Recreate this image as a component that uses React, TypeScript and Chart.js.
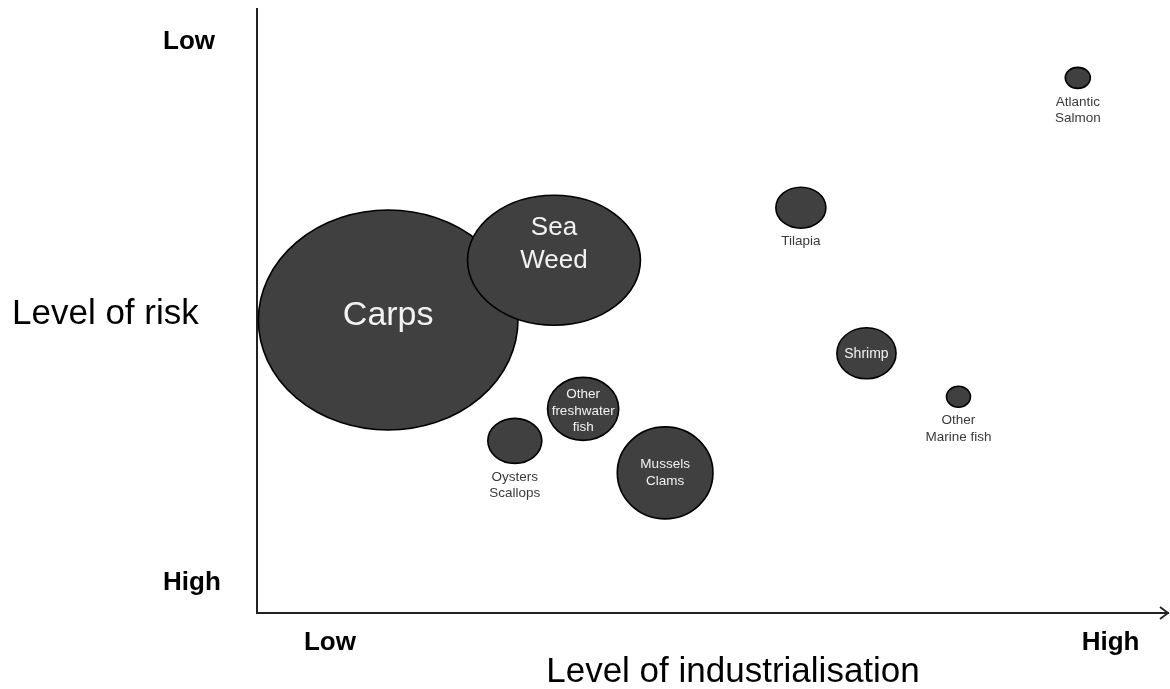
import React, { useEffect, useRef } from "react";
import { Chart, registerables } from "chart.js";

Chart.register(...registerables);

// ---- data ----
const species = [
  "Carps",
  "Sea Weed",
  "Other freshwater fish",
  "Oysters Scallops",
  "Mussels Clams",
  "Tilapia",
  "Shrimp",
  "Other Marine fish",
  "Atlantic Salmon",
];
// level of industrialisation (0 = low, 100 = high)
const industrialisation = [14.4, 32.6, 35.8, 28.3, 44.8, 59.7, 66.9, 77.0, 90.1];
// level of risk position (100 = low risk at top, 0 = high risk at bottom)
const riskPosition = [48.5, 58.4, 33.8, 28.5, 23.2, 67.1, 43.0, 35.8, 88.6];
// bubble size (radius) and ellipse aspect
const bubbleSize = [110, 65, 31.5, 22.5, 46, 20.5, 25.5, 10.5, 10.5];
const bubbleAspect = [1.18, 1.33, 1.13, 1.2, 1.04, 1.22, 1.16, 1.14, 1.19];
// label lines and placement
const labelLines = [
  ["Carps"],
  ["Sea", "Weed"],
  ["Other", "freshwater", "fish"],
  ["Oysters", "Scallops"],
  ["Mussels", "Clams"],
  ["Tilapia"],
  ["Shrimp"],
  ["Other", "Marine fish"],
  ["Atlantic", "Salmon"],
];
const labelInside = [true, true, true, false, true, false, true, false, false];

const xTickValues = [8, 93.7];
const xTickLabels = ["Low", "High"];
const yTickValues = [94.6, 5.0];
const yTickLabels = ["Low", "High"];
const xAxisTitle = "Level of industrialisation";
const yAxisTitle = "Level of risk";

const FONT = '"Liberation Sans", Arial, Helvetica, sans-serif';

// inside-label styles
const insideFont = [34, 26, 13.5, 13, 13.5, 13.5, 14, 13.5, 13.5];
const insideLineH = [34, 33, 16.5, 16, 17, 16, 16, 16, 16];
const insideDy = [-4, -16, 2, 0, 0, 0, 1, 0, 0];

const bubblePlugin = {
  id: "ellipseBubbles",
  afterDatasetsDraw(chart: any) {
    const ctx = chart.ctx as CanvasRenderingContext2D;
    const meta = chart.getDatasetMeta(0);
    ctx.save();
    meta.data.forEach((el: any, i: number) => {
      const ry = bubbleSize[i];
      const rx = ry * bubbleAspect[i];
      ctx.beginPath();
      ctx.ellipse(el.x, el.y, rx, ry, 0, 0, Math.PI * 2);
      ctx.fillStyle = "#404040";
      ctx.fill();
      ctx.lineWidth = 1.6;
      ctx.strokeStyle = "#000000";
      ctx.stroke();
    });
    meta.data.forEach((el: any, i: number) => {
      const ry = bubbleSize[i];
      const lines = labelLines[i];
      ctx.textAlign = "center";
      ctx.textBaseline = "middle";
      if (labelInside[i]) {
        const fs = insideFont[i];
        const lh = insideLineH[i];
        ctx.font = `${fs}px ${FONT}`;
        ctx.fillStyle = "#f2f2f2";
        const start = el.y + insideDy[i] - ((lines.length - 1) * lh) / 2;
        lines.forEach((t, k) => ctx.fillText(t, el.x, start + k * lh));
      } else {
        ctx.font = `13.5px ${FONT}`;
        ctx.fillStyle = "#3a3a3a";
        const start = el.y + ry + 13.5;
        lines.forEach((t, k) => ctx.fillText(t, el.x, start + k * 16.5));
      }
    });
    ctx.restore();
  },
  afterDraw(chart: any) {
    const ctx = chart.ctx as CanvasRenderingContext2D;
    const area = chart.chartArea;
    const xs = chart.scales.x;
    const ys = chart.scales.y;
    ctx.save();
    // arrow head at the end of x axis
    ctx.strokeStyle = "#222222";
    ctx.lineWidth = 1.8;
    ctx.beginPath();
    ctx.moveTo(area.right - 8, area.bottom - 6);
    ctx.lineTo(area.right, area.bottom);
    ctx.lineTo(area.right - 8, area.bottom + 6);
    ctx.stroke();

    ctx.fillStyle = "#000000";
    // y ticks (Low / High)
    ctx.font = `bold 26px ${FONT}`;
    ctx.textAlign = "left";
    ctx.textBaseline = "middle";
    yTickValues.forEach((v, i) => {
      ctx.fillText(yTickLabels[i], 163, ys.getPixelForValue(v));
    });
    // x ticks
    ctx.textAlign = "center";
    xTickValues.forEach((v, i) => {
      ctx.fillText(xTickLabels[i], xs.getPixelForValue(v), area.bottom + 30);
    });
    // titles
    ctx.font = `35px ${FONT}`;
    ctx.textAlign = "left";
    ctx.fillText(yAxisTitle, 12, (area.top + area.bottom) / 2 + 3);
    ctx.textAlign = "center";
    ctx.fillText(xAxisTitle, 733, area.bottom + 59);
    ctx.restore();
  },
};

export default function App() {
  const ref = useRef<HTMLCanvasElement | null>(null);
  useEffect(() => {
    if (!ref.current) return;
    const chart = new Chart(ref.current, {
      type: "bubble",
      data: {
        datasets: [
          {
            label: "Species",
            data: species.map((_, i) => ({
              x: industrialisation[i],
              y: riskPosition[i],
              r: bubbleSize[i],
            })),
            backgroundColor: "rgba(0,0,0,0)",
            borderWidth: 0,
            hoverRadius: 0,
            clip: false,
          },
        ],
      },
      plugins: [bubblePlugin],
      options: {
        responsive: false,
        animation: false,
        events: [],
        layout: { autoPadding: false, padding: { left: 257, top: 9, right: 2, bottom: 76 } },
        plugins: { legend: { display: false }, tooltip: { enabled: false } },
        scales: {
          x: {
            type: "linear",
            min: 0,
            max: 100,
            grid: { display: false, drawTicks: false },
            ticks: { display: false },
            border: { display: true, color: "#222222", width: 2 },
          },
          y: {
            type: "linear",
            min: 0,
            max: 100,
            grid: { display: false, drawTicks: false },
            ticks: { display: false },
            border: { display: true, color: "#222222", width: 2 },
          },
        },
      },
    });
    return () => chart.destroy();
  }, []);
  return (
    <div style={{ position: "fixed", left: 0, top: 0, width: 1170, height: 689, background: "#fff" }}>
      <canvas ref={ref} width={1170} height={689} />
    </div>
  );
}
